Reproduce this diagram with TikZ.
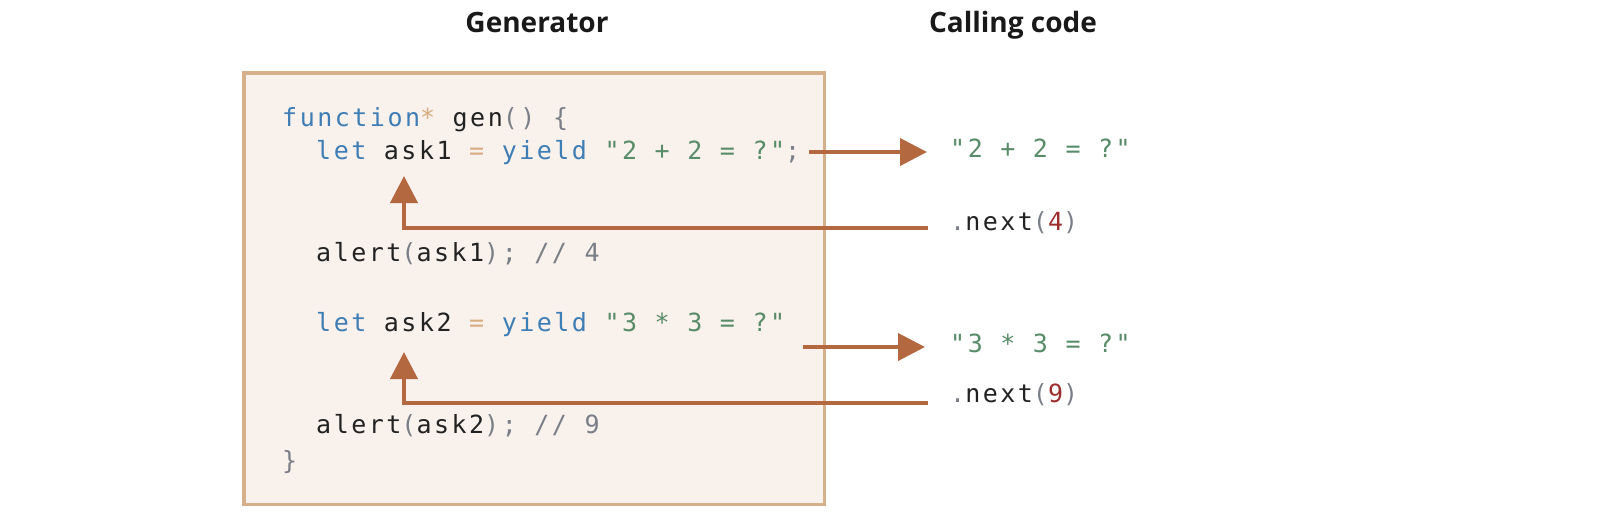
\documentclass[tikz,border=0pt]{standalone}
\usepackage{fontspec}
\usetikzlibrary{arrows.meta,positioning}
\newfontfamily\codefont{DejaVu Sans Mono}[LetterSpace=10]
\newfontfamily\headfont{Open Sans}

\definecolor{kwblue}{RGB}{62,126,180}
\definecolor{optan}{RGB}{214,172,128}
\definecolor{strgreen}{RGB}{88,140,104}
\definecolor{pungrey}{RGB}{122,126,134}
\definecolor{numred}{RGB}{158,46,46}
\definecolor{idblack}{RGB}{34,34,34}
\definecolor{boxtan}{RGB}{214,176,138}
\definecolor{boxfill}{RGB}{249,241,236}
\definecolor{flowbrown}{RGB}{180,104,64}

\newcommand{\jkw}[1]{\textcolor{kwblue}{#1}}
\newcommand{\jop}[1]{\textcolor{optan}{#1}}
\newcommand{\jstr}[1]{\textcolor{strgreen}{#1}}
\newcommand{\jpun}[1]{\textcolor{pungrey}{#1}}
\newcommand{\jnum}[1]{\textcolor{numred}{#1}}

\begin{document}
\begin{tikzpicture}[x=1pt, y=-1pt,
                    heading/.style={inner sep=0pt, anchor=base, font=\headfont\bfseries\fontsize{28}{33}\selectfont, text=black!90},
                    codeline/.style={inner sep=0pt, anchor=base west, font=\codefont\fontsize{25}{30}\selectfont, text=idblack},
                    genbox/.style={draw=boxtan, fill=boxfill, line width=3.5pt, minimum width=580.5pt, minimum height=431.5pt, inner sep=0pt},
                    flow/.style={-{Triangle[length=27pt, width=27pt]}, line width=4pt, draw=flowbrown}
                ]
                    \useasboundingbox (0,0) rectangle (1614,530);

                    \node[genbox] (gen) at (534,288.5) {};
                    \node[heading] (gentitle) at (537,32) {Generator};
                    \node[heading] (calltitle) at (1013,32) {Calling code};

                    % generator code
                    \node[codeline] (fn) at (282,126) {\jkw{function}\jop{*} gen\jpun{()} \jpun{\{}};
                    \node[codeline] (ask1) at (316,159) {\jkw{let} ask1 \jop{=} \jkw{yield} \jstr{"2 + 2 = ?"}\jpun{;}};
                    \node[codeline] (alert1) at (316,261) {alert\jpun{(}ask1\jpun{);} \jpun{// 4}};
                    \node[codeline] (ask2) at (316,331) {\jkw{let} ask2 \jop{=} \jkw{yield} \jstr{"3 * 3 = ?"}};
                    \node[codeline] (alert2) at (316,433) {alert\jpun{(}ask2\jpun{);} \jpun{// 9}};
                    \node[codeline] (close) at (282,469) {\jpun{\}}};

                    % calling code
                    \node[codeline] (q1) at (950,157) {\jstr{"2 + 2 = ?"}};
                    \node[codeline] (next4) at (950,230) {\jpun{.}next\jpun{(}\jnum{4}\jpun{)}};
                    \node[codeline] (q2) at (950,352) {\jstr{"3 * 3 = ?"}};
                    \node[codeline] (next9) at (950,402) {\jpun{.}next\jpun{(}\jnum{9}\jpun{)}};

                    \coordinate (out1) at (809,152);
                    \coordinate (in1) at (927,152);
                    \coordinate (ret1) at (928,228);
                    \coordinate (back1) at (404,176);
                    \coordinate (out2) at (803,347);
                    \coordinate (in2) at (925,347);
                    \coordinate (ret2) at (928,403);
                    \coordinate (back2) at (404,352);

                    \draw[flow] (out1) -- (in1);
                    \draw[flow] (ret1) -| (back1);
                    \draw[flow] (out2) -- (in2);
                    \draw[flow] (ret2) -| (back2);

                \end{tikzpicture}
\end{document}
